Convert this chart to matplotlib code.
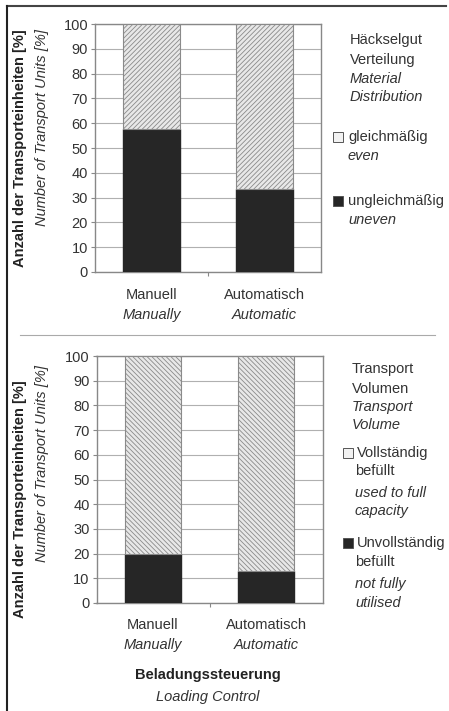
import matplotlib.pyplot as plt
from matplotlib.patches import Rectangle
from matplotlib.lines import Line2D

plt.rcParams['font.family'] = ['Liberation Sans', 'DejaVu Sans']

# data
categories_de = ['Manuell', 'Automatisch']
categories_en = ['Manually', 'Automatic']
uneven = [57.5, 33.5]
even = [42.5, 66.5]
not_full = [20, 13]
full = [80, 87]
yticks = list(range(0, 101, 10))

W, H = 449, 711
fig = plt.figure(figsize=(W / 100, H / 100), dpi=100)
txt_col = '#333333'
grid_col = '#b0b0b0'
fs = 10.5


def px(x, y):
    return x / W, 1 - y / H


def ftext(x, y, s, **kw):
    kw.setdefault('color', txt_col)
    kw.setdefault('fontsize', fs)
    fig.text(*px(x, y), s, **kw)


def make_axes(left, top, right, bottom, dark, light, hatch):
    ax = fig.add_axes([left / W, 1 - bottom / H, (right - left) / W, (bottom - top) / H])
    x = range(len(categories_de))
    ax.bar(x, dark, width=0.5, color='#262626', edgecolor='#262626', zorder=3)
    ax.bar(x, light, width=0.5, bottom=dark, color='#e8e8e8', edgecolor='#8a8a8a',
           hatch=hatch, linewidth=0.8, zorder=3)
    ax.set_xlim(-0.5, 1.5)
    ax.set_ylim(0, 100)
    ax.set_yticks(yticks)
    ax.set_yticklabels([str(v) for v in yticks], fontsize=fs, color=txt_col)
    ax.tick_params(axis='y', length=3, color='#888888', pad=2)
    ax.set_xticks([0.5])
    ax.set_xticklabels([''])
    ax.tick_params(axis='x', length=3, color='#888888')
    ax.grid(axis='y', color=grid_col, linewidth=0.8, zorder=0)
    for s in ax.spines.values():
        s.set_color('#888888')
        s.set_linewidth(1.0)
    return ax


plt.rcParams['hatch.color'] = '#a0a0a0'
plt.rcParams['hatch.linewidth'] = 0.6

ax1 = make_axes(95, 24, 321, 272, uneven, even, '///////')
ax2 = make_axes(96.5, 356, 322.5, 603, not_full, full, '\\\\\\\\\\\\\\')

# category labels
for ax, y1, y2 in [(ax1, 295, 315), (ax2, 625, 645)]:
    for i, (de, en) in enumerate(zip(categories_de, categories_en)):
        xf = ax.transData.transform((i, 0))[0] / fig.dpi / fig.get_figwidth()
        fig.text(xf, 1 - y1 / H, de, ha='center', va='center', fontsize=fs, color=txt_col)
        fig.text(xf, 1 - y2 / H, en, ha='center', va='center', fontsize=fs,
                 style='italic', color=txt_col)

# y labels
for yc_b, yc_i in [(148, 128), (499, 463)]:
    ftext(20, yc_b, 'Anzahl der Transporteinheiten [%]', rotation=90, ha='center',
          va='center', fontweight='bold', color='#222222')
    ftext(42, yc_i, 'Number of Transport Units [%]', rotation=90, ha='center',
          va='center', style='italic')

# x label
ftext(208, 675, 'Beladungssteuerung', ha='center', va='center', fontweight='bold',
      color='#222222')
ftext(208, 697, 'Loading Control', ha='center', va='center', style='italic')

# legends
lx = 350
leg1 = [('Häckselgut', 40, 'normal'), ('Verteilung', 60, 'normal'),
        ('Material', 79, 'italic'), ('Distribution', 97, 'italic'),
        ('gleichmäßig', 137, 'normal'), ('even', 156, 'italic'),
        ('ungleichmäßig', 201, 'normal'), ('uneven', 220, 'italic')]
for s, y, st in leg1:
    xx = lx - 2 if s in ('gleichmäßig', 'ungleichmäßig', 'even', 'uneven') else lx
    ftext(xx, y, s, va='center', style=st)
leg2 = [('Transport', 369, 'normal'), ('Volumen', 389, 'normal'),
        ('Transport', 407, 'italic'), ('Volume', 425, 'italic'),
        ('Vollständig', 453, 'normal'), ('befüllt', 471, 'normal'),
        ('used to full', 493, 'italic'), ('capacity', 511, 'italic'),
        ('Unvollständig', 543, 'normal'), ('befüllt', 562, 'normal'),
        ('not fully', 584, 'italic'), ('utilised', 603, 'italic')]
for s, y, st in leg2:
    xx = lx + 7 if s in ('Vollständig', 'Unvollständig') else lx + 5
    if s in ('Transport', 'Volumen', 'Volume'):
        xx = lx + 2
    ftext(xx, y, s, va='center', style=st)

for x0, y0, fc in [(333, 137, '#f2f2f2'), (333, 201, '#262626'),
                   (343, 453, '#f2f2f2'), (343, 543, '#262626')]:
    fig.patches.append(Rectangle(px(x0, y0 + 5), 10 / W, 10 / H, transform=fig.transFigure,
                                 facecolor=fc, edgecolor='#555555', linewidth=0.7))

# separator and frame
fig.add_artist(Line2D([20 / W, 435 / W], [1 - 335 / H] * 2, color='#aaaaaa', linewidth=0.8))
fig.add_artist(Line2D([7 / W, 446 / W], [1 - 6 / H] * 2, color='#444444', linewidth=1.5))
fig.add_artist(Line2D([7 / W, 7 / W], [1 - 6 / H, 0], color='#222222', linewidth=1.5))

fig.savefig('out.png', dpi=100)
